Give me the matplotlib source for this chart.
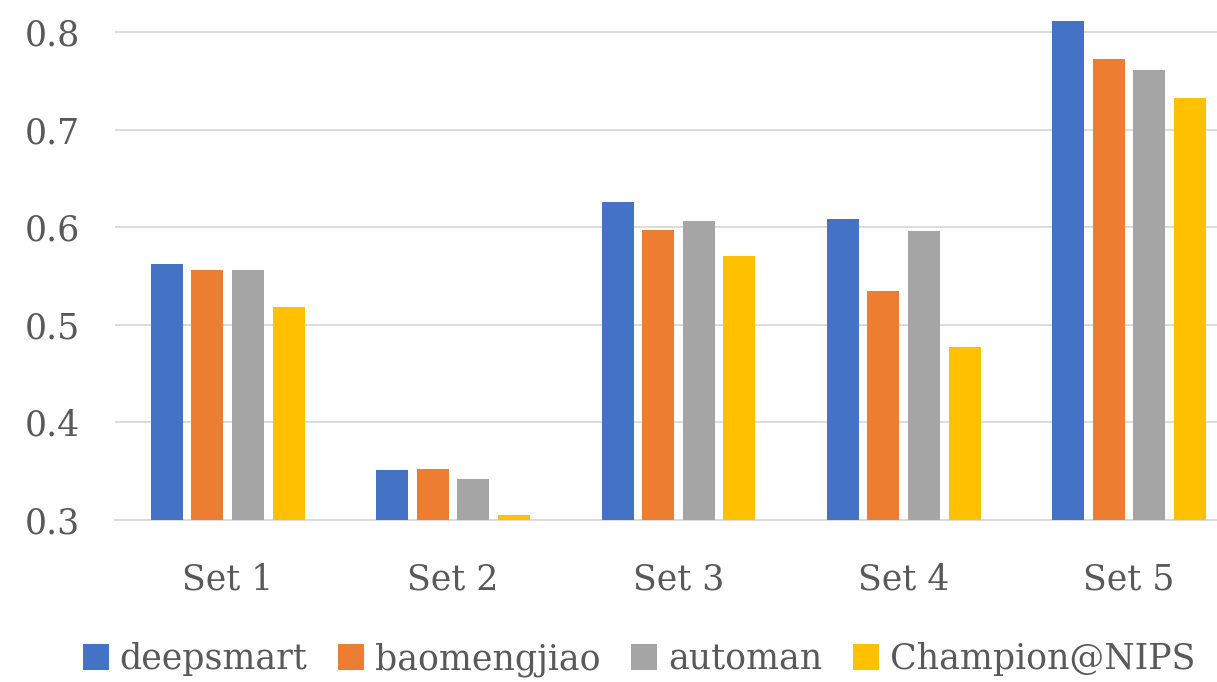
import matplotlib.pyplot as plt
import numpy as np

# data
sets = ['Set 1', 'Set 2', 'Set 3', 'Set 4', 'Set 5']
deepsmart = [0.562, 0.351, 0.626, 0.608, 0.811]
baomengjiao = [0.556, 0.352, 0.597, 0.534, 0.772]
automan = [0.556, 0.342, 0.606, 0.596, 0.761]
champion = [0.518, 0.305, 0.570, 0.477, 0.732]

series = [
    ('deepsmart', deepsmart, '#4472C4'),
    ('baomengjiao', baomengjiao, '#ED7D31'),
    ('automan', automan, '#A5A5A5'),
    ('Champion@NIPS', champion, '#FFC000'),
]

plt.rcParams['font.family'] = ['DejaVu Serif']
txt = '#595959'

fig = plt.figure(figsize=(12.17, 6.82), dpi=100)
ax = fig.add_axes([115 / 1217, (682 - 519.5) / 682, 1 - 115 / 1217, 519.5 / 682])

x = np.arange(len(sets))
step = 0.18
width = 0.142
for i, (name, vals, color) in enumerate(series):
    ax.bar(x + (i - 1.5) * step, vals, width=width, color=color, label=name, zorder=3)

ax.set_ylim(0.3, 0.833)
ax.set_xlim(-0.5, 4.39)
ax.set_yticks([0.3, 0.4, 0.5, 0.6, 0.7, 0.8])
ax.set_yticklabels(['0.3', '0.4', '0.5', '0.6', '0.7', '0.8'])
ax.set_xticks(x)
ax.set_xticklabels(sets)
ax.grid(axis='y', color='#D9D9D9', linewidth=1.3, zorder=0)
ax.tick_params(axis='both', length=0, labelsize=25, colors=txt)
ax.tick_params(axis='x', pad=31)
ax.tick_params(axis='y', pad=25)
for s in ['top', 'right', 'left']:
    ax.spines[s].set_visible(False)
ax.spines['bottom'].set_color('#D9D9D9')
ax.spines['bottom'].set_linewidth(1.3)

leg = fig.legend(loc='center', bbox_to_anchor=(0.525, 0.033), ncol=4, frameon=False,
                 fontsize=25, handlelength=0.75, handleheight=0.75, handletextpad=0.3,
                 columnspacing=0.9)
for t in leg.get_texts():
    t.set_color(txt)

fig.savefig('out.png', dpi=100)
